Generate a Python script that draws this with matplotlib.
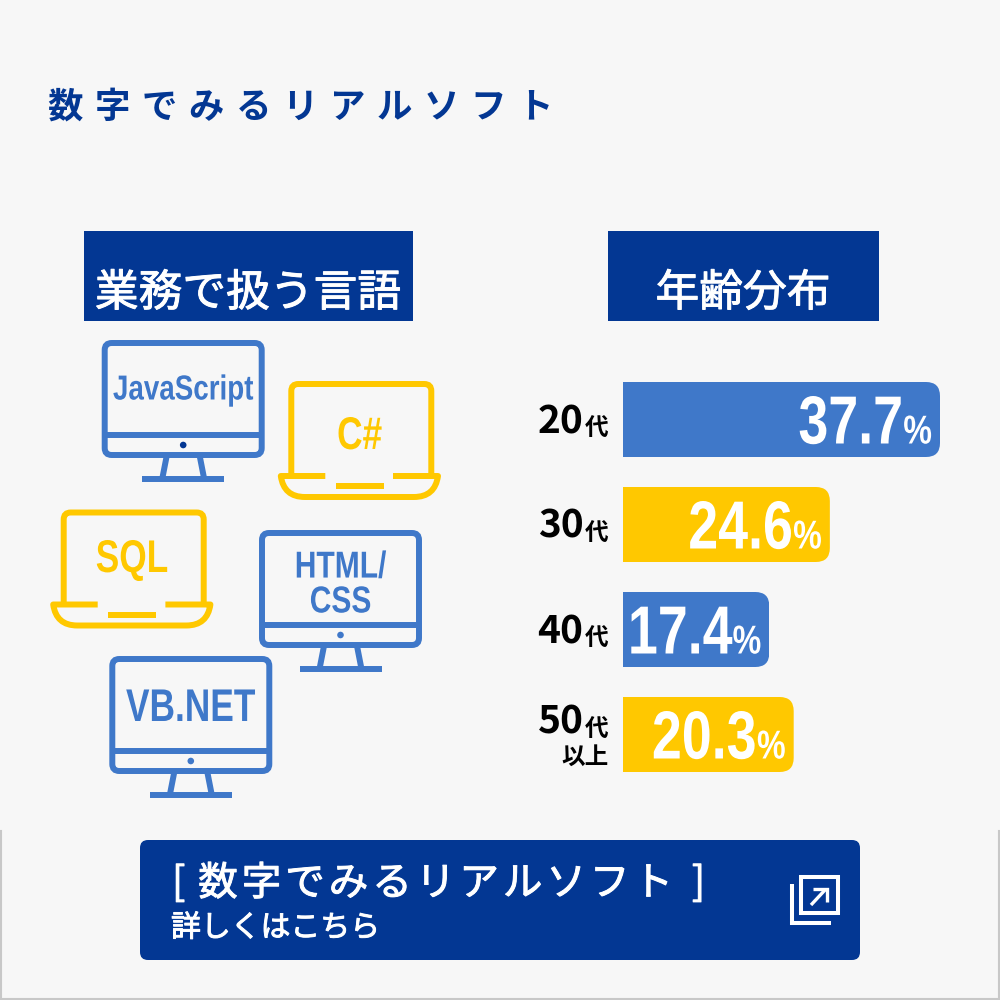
import matplotlib
matplotlib.use('Agg')
import matplotlib.pyplot as plt
from matplotlib.patches import FancyBboxPatch, Rectangle, Circle, PathPatch
from matplotlib.path import Path
from matplotlib.text import Text
from matplotlib.transforms import Affine2D, Bbox
from matplotlib.patheffects import AbstractPathEffect, withStroke

# ---- data ----
age_labels = ['20', '30', '40', '50']
age_values = [37.7, 24.6, 17.4, 20.3]
monitor_langs = ['JavaScript', 'HTML/\nCSS', 'VB.NET']
laptop_langs = ['C#', 'SQL']
title = '数字でみるリアルソフト'
left_head = '業務で扱う言語'
right_head = '年齢分布'
cta_sub = '詳しくはこちら'

BLUE = '#3F78C9'; YELLOW = '#FFC800'; NAVY = '#033793'; BG = '#F7F7F7'; EDGE = '#C8C8C8'
JP = ['Noto Sans CJK JP', 'DejaVu Sans']
NARROW = 'Liberation Sans'
LW = 4.3
MEDIUM = [withStroke(linewidth=0.7, foreground='white')]


class Squeeze(AbstractPathEffect):
    """Narrows a text's glyphs around its anchor (no condensed font is installed)."""
    def __init__(self, owner, sx):
        super().__init__()
        self.owner, self.sx = owner, sx

    def draw_path(self, renderer, gc, tpath, affine, rgbFace=None):
        ax_x = self.owner.get_transform().transform(self.owner.get_unitless_position())[0]
        sq = Affine2D().translate(-ax_x, 0).scale(self.sx, 1).translate(ax_x, 0)
        renderer.draw_path(gc, tpath, affine + sq, rgbFace)


class NarrowText(Text):
    def __init__(self, *a, sx=0.77, **k):
        super().__init__(*a, **k)
        self._sx = sx
        self.set_path_effects([Squeeze(self, sx)])

    def get_window_extent(self, renderer=None, dpi=None):
        b = super().get_window_extent(renderer, dpi)
        x = self.get_transform().transform(self.get_unitless_position())[0]
        return Bbox([[x + (b.x0 - x) * self._sx, b.y0], [x + (b.x1 - x) * self._sx, b.y1]])


def ntext(target, x, y, s, sx=0.77, **k):
    k.setdefault('transform', target.transData)
    t = NarrowText(x, y, s, sx=sx, family=NARROW, weight='bold', **k)
    target.add_artist(t)
    return t


fig = plt.figure(figsize=(10, 10), dpi=100, facecolor=BG)
ax = fig.add_axes([0, 0, 1, 1]); ax.set_xlim(0, 1000); ax.set_ylim(1000, 0); ax.axis('off')
ax.set_zorder(2)

# frame of lower part
ax.plot([1, 1, 999, 999], [831, 999, 999, 831], color=EDGE, lw=1.5, solid_joinstyle='miter')

# title and headings
ax.text(48, 107, '\u2004'.join(title), family=JP, weight='bold', fontsize=25.5, color=NAVY, va='center', ha='left')
ax.add_patch(Rectangle((84, 231), 329, 89.5, fc=NAVY, ec='none'))
ax.add_patch(Rectangle((608, 231), 271, 89.5, fc=NAVY, ec='none'))
ax.text(248, 293, left_head, family=JP, fontsize=31.5, color='white', ha='center', va='center', path_effects=MEDIUM)
ax.text(743, 293, right_head, family=JP, fontsize=31.5, color='white', ha='center', va='center', path_effects=MEDIUM)


def monitor(x0, y0, label, fs, dot=BLUE, ty=None, sx=0.77):
    x1, y1 = x0 + 157, y0 + 112
    cx = (x0 + x1) / 2
    ax.add_patch(FancyBboxPatch((x0 + 7, y0 + 7), 143, 98, boxstyle='round,pad=7,rounding_size=7',
                                fc='none', ec=BLUE, lw=LW))
    ax.plot([x0, x1], [y0 + 92, y0 + 92], color=BLUE, lw=LW, solid_capstyle='butt')
    ax.add_patch(Circle((cx, y0 + 102), 3.3, fc=dot, ec='none'))
    ax.plot([cx - 16.5, cx - 21], [y1 + 1, y1 + 24], color=BLUE, lw=LW, solid_capstyle='butt')
    ax.plot([cx + 16.5, cx + 21], [y1 + 1, y1 + 24], color=BLUE, lw=LW, solid_capstyle='butt')
    ax.plot([cx - 41, cx + 41], [y1 + 24, y1 + 24], color=BLUE, lw=LW, solid_capstyle='butt')
    ntext(ax, cx, ty, label, sx=sx, fontsize=fs, color=BLUE, ha='center', va='center', linespacing=0.96)


def laptop(x0, y0, label, fs, ty):
    x1 = x0 + 140
    c = YELLOW
    v = [(x0, y0 + 92), (x0, y0 + 7), (x0, y0), (x0 + 7, y0), (x1 - 7, y0), (x1, y0), (x1, y0 + 7), (x1, y0 + 92)]
    k = [Path.MOVETO, Path.LINETO, Path.CURVE3, Path.CURVE3, Path.LINETO, Path.CURVE3, Path.CURVE3, Path.LINETO]
    ax.add_patch(PathPatch(Path(v, k), fc='none', ec=c, lw=LW, capstyle='butt'))
    bl, br = x0 - 10.5, x1 + 6.7
    yt, yb = y0 + 92, y0 + 113
    v = [(bl + 44.5, yt), (bl, yt), (bl + 3, yb), (bl + 24, yb), (br - 24, yb), (br - 3, yb), (br, yt), (br - 45, yt)]
    k = [Path.MOVETO, Path.LINETO, Path.CURVE3, Path.CURVE3, Path.LINETO, Path.CURVE3, Path.CURVE3, Path.LINETO]
    ax.add_patch(PathPatch(Path(v, k), fc='none', ec=c, lw=LW, capstyle='butt', joinstyle='round'))
    cx = x0 + 68.3
    ax.plot([cx - 24, cx + 24], [y0 + 102, y0 + 102], color=c, lw=LW, solid_capstyle='butt')
    ntext(ax, cx, ty, label, fontsize=fs, color=c, ha='center', va='center')


monitor(104.7, 343, monitor_langs[0], 25, dot=NAVY, ty=390, sx=0.8)
monitor(262, 533, monitor_langs[1], 27, ty=585, sx=0.8)
monitor(112.3, 659, monitor_langs[2], 33, ty=709)
laptop(291.3, 384, laptop_langs[0], 33, 437)
laptop(63.7, 512.5, laptop_langs[1], 33, 560)

# bars on their own value axes (one slot = 105 px)
bar_ax = fig.add_axes([0.623, 0.213, 0.317, 0.42], facecolor='none')
bar_ax.set_zorder(1)
bar_ax.set_xlim(0, 37.7); bar_ax.set_ylim(3.5, -0.5); bar_ax.axis('off')
cols = [BLUE, YELLOW, BLUE, YELLOW]
bars = bar_ax.barh(range(4), age_values, height=75 / 105, color=cols, edgecolor='none')
to_px = bar_ax.transData + ax.transData.inverted()
bases = [433, 538, 643.5, 734]
for i, (b, v) in enumerate(zip(bars, age_values)):
    (xe, ym) = to_px.transform((v, i))
    clip = FancyBboxPatch((560, ym - 37.5), xe - 560, 75, boxstyle='round,pad=0,rounding_size=14',
                          transform=ax.transData, fc='none', ec='none')
    b.set_clip_path(clip)
    ntext(ax, xe - 8, ym + 24, '%', sx=0.8, fontsize=29, color='white', ha='right', va='baseline')
    ntext(ax, xe - 37, ym + 24, f'{v:.1f}', sx=0.79, fontsize=49, color='white', ha='right', va='baseline')
    base = bases[i]
    ax.text(583.5, base, age_labels[i], family=JP, weight='bold', fontsize=28, color='black', ha='right', va='baseline')
    ax.text(608.5, base + 2.5, '代', family=JP, weight='bold', fontsize=17, color='black', ha='right', va='baseline')
ax.text(608.5, 764, '以上', family=JP, weight='bold', fontsize=17, color='black', ha='right', va='baseline')

# button
ax.add_patch(FancyBboxPatch((148, 848), 704, 104, boxstyle='round,pad=8,rounding_size=8', fc=NAVY, ec='none'))
ax.text(172, 884, '[ \u200a' + '\u200a'.join(title) + ' \u2005]', family=JP, fontsize=28.5, color='white',
        ha='left', va='center', path_effects=MEDIUM)
ax.text(171, 928, cta_sub, family=JP, fontsize=21.5, color='white', ha='left', va='center', path_effects=MEDIUM)
ax.add_patch(Rectangle((801, 877), 37, 36, fc='none', ec='white', lw=2.9))
ax.plot([792, 792, 830.7], [884, 923, 923], color='white', lw=2.9, solid_capstyle='butt', solid_joinstyle='miter')
ax.plot([811, 825], [905, 890], color='white', lw=2.4, solid_capstyle='butt')
ax.plot([813, 826.5, 826.5], [889, 889, 902], color='white', lw=2.4, solid_capstyle='butt', solid_joinstyle='miter')

fig.savefig('out.png', dpi=100, facecolor=BG)
